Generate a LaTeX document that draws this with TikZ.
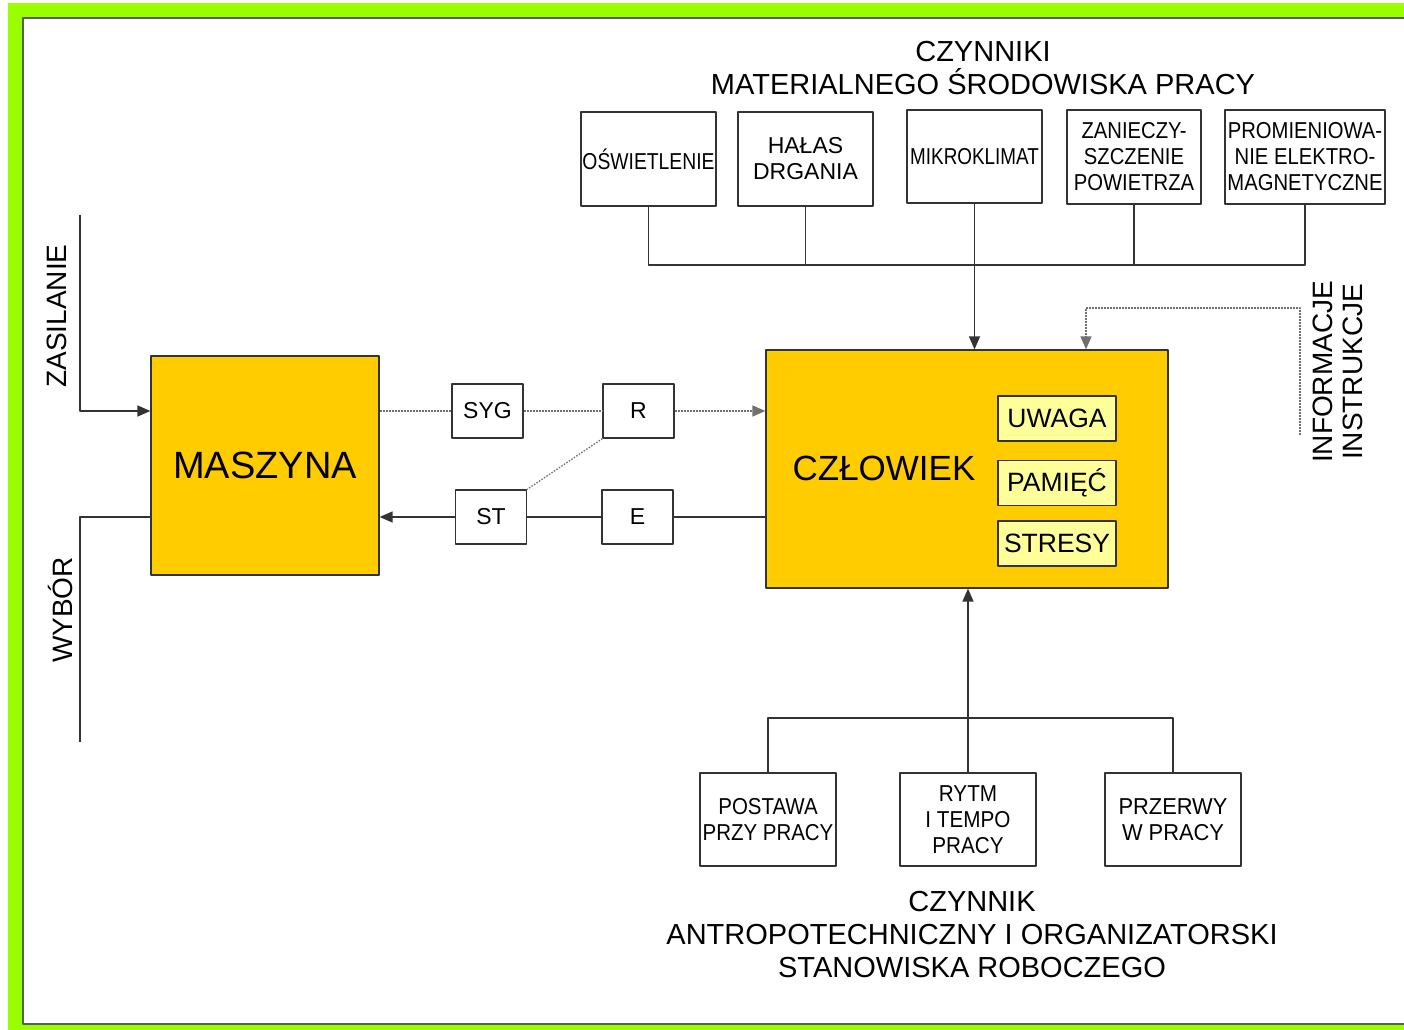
\documentclass[tikz,border=0pt]{standalone}
\usepackage{fontspec}
\setmainfont{Liberation Sans}
\usepackage{graphicx}
\usetikzlibrary{arrows.meta}
\definecolor{frame}{HTML}{99FF00}
\definecolor{gold}{HTML}{FFCC00}
\definecolor{pale}{HTML}{FFFF99}
\definecolor{ink}{HTML}{333333}
\newcommand{\narrow}[2]{\scalebox{#1}[1]{#2}}

\begin{document}
\begin{tikzpicture}[>={Triangle[length=13bp,width=11bp]},line join=bevel,
  wire/.style={draw=ink,line width=1.3bp},
  signal/.style={draw=ink!70,line width=1.3bp,dash pattern=on 2bp off 1bp},
  box/.style={draw=ink,line width=1.2bp,fill=white,inner sep=0pt,align=center,minimum width=135bp,minimum height=94bp,font=\fontsize{23bp}{26bp}\selectfont},
  smallbox/.style={draw=ink,line width=1.2bp,fill=white,inner sep=0pt,minimum width=71bp,minimum height=54bp,font=\fontsize{23bp}{26bp}\selectfont},
  bigbox/.style={draw=ink,line width=1.2bp,fill=gold,inner sep=0pt},
  tagbox/.style={draw=ink,line width=1.2bp,fill=pale,inner sep=0pt,minimum width=118bp,minimum height=45bp,font=\fontsize{26.5bp}{30bp}\selectfont},
  title/.style={inner sep=0pt,align=center,font=\fontsize{29bp}{33bp}\selectfont},
  sidelabel/.style={inner sep=0pt,rotate=90,align=center,font=\fontsize{28bp}{30bp}\selectfont}]
%%
\useasboundingbox (0bp,0bp) rectangle (1404bp,1030bp);
\fill [white] (0bp,0bp) rectangle (1404bp,1030bp);
\fill [frame] (8bp,0bp) rectangle (1404bp,1027bp);
\draw [fill=white,draw=ink!80,line width=1.5bp] (23bp,6bp) rectangle (1412bp,1012bp);
%
\node (node_title) at (983bp,962bp) [title] {CZYNNIKI\\MATERIALNEGO ŚRODOWISKA PRACY};
\node (node_oswietlenie) at (648.5bp,871bp) [box] {\narrow{0.84}{OŚWIETLENIE}};
\node (node_halas) at (805.5bp,871bp) [box] {HAŁAS\\DRGANIA};
\node (node_mikroklimat) at (974.5bp,873.5bp) [box,minimum height=93bp] {\narrow{0.82}{MIKROKLIMAT}};
\node (node_zanieczyszczenie) at (1134bp,873bp) [box,minimum width=134bp] {\narrow{0.88}{ZANIECZY-}\\\narrow{0.88}{SZCZENIE}\\\narrow{0.88}{POWIETRZA}};
\node (node_promieniowanie) at (1305bp,873bp) [box,minimum width=160bp] {\narrow{0.88}{PROMIENIOWA-}\\\narrow{0.88}{NIE ELEKTRO-}\\\narrow{0.88}{MAGNETYCZNE}};
%
\node (node_czlowiek) at (967bp,561bp) [bigbox,minimum width=402bp,minimum height=238bp] {};
\node (node_czlowiek_label) at (884bp,562bp) [inner sep=0pt,font=\fontsize{35bp}{40bp}\selectfont] {CZŁOWIEK};
\node (node_uwaga) at (1057bp,611.5bp) [tagbox] {UWAGA};
\node (node_pamiec) at (1057bp,547bp) [tagbox] {PAMIĘĆ};
\node (node_stresy) at (1057bp,486.5bp) [tagbox] {STRESY};
%
\node (node_maszyna) at (265bp,564.5bp) [bigbox,minimum width=228bp,minimum height=219bp,font=\fontsize{38bp}{42bp}\selectfont] {MASZYNA};
\node (node_syg) at (487.5bp,619bp) [smallbox] {SYG};
\node (node_r) at (638.5bp,619bp) [smallbox] {R};
\node (node_st) at (491bp,513bp) [smallbox] {ST};
\node (node_e) at (637.5bp,513bp) [smallbox] {E};
%
\node (node_postawa) at (768bp,210.5bp) [box,minimum width=136bp,minimum height=93bp] {\narrow{0.89}{POSTAWA}\\\narrow{0.89}{PRZY PRACY}};
\node (node_rytm) at (968bp,210.5bp) [box,minimum width=136bp,minimum height=93bp] {\narrow{0.9}{RYTM}\\\narrow{0.9}{I TEMPO}\\\narrow{0.9}{PRACY}};
\node (node_przerwy) at (1173bp,210.5bp) [box,minimum width=136bp,minimum height=93bp] {\narrow{0.95}{PRZERWY}\\\narrow{0.95}{W PRACY}};
\node (node_bottom_title) at (972bp,95bp) [title] {CZYNNIK\\ANTROPOTECHNICZNY I ORGANIZATORSKI\\STANOWISKA ROBOCZEGO};
%
\node (node_zasilanie) at (57bp,714bp) [sidelabel] {ZASILANIE};
\node (node_wybor) at (60bp,420bp) [sidelabel] {WYBÓR};
\node (node_informacje) at (1338bp,658bp) [sidelabel] {INFORMACJE\\INSTRUKCJE};
\coordinate (zas_top) at (80bp,815bp);
\coordinate (wyb_bottom) at (80bp,288bp);
\coordinate (info_start) at (1300bp,595bp);
\coordinate (info_in) at (1086bp,722bp);
\coordinate (bus_top) at (975bp,765bp);
\coordinate (bus_bottom) at (968bp,312bp);
%
\draw [wire] (node_oswietlenie.south) |- (bus_top) -| (node_promieniowanie.south);
\draw [wire] (node_halas.south) -- (node_halas.south |- bus_top);
\draw [wire] (node_zanieczyszczenie.south) -- (node_zanieczyszczenie.south |- bus_top);
\draw [wire,->] (node_mikroklimat.south) -- (node_mikroklimat.south |- node_czlowiek.north);
\draw [signal,->] (info_start) |- (info_in) -- (info_in |- node_czlowiek.north);
\draw [wire] (node_postawa.north) |- (bus_bottom) -| (node_przerwy.north);
\draw [wire,->] (node_rytm.north) -- (node_rytm.north |- node_czlowiek.south);
%
\draw [signal] (node_maszyna.east |- node_syg) -- (node_syg);
\draw [signal] (node_syg) -- (node_r);
\draw [signal,->] (node_r) -- (node_r -| node_czlowiek.west);
\draw [signal,dash pattern=on 1.5bp off 1.5bp] (node_r.south west) -- (node_st.north east);
\draw [wire] (node_czlowiek.west |- node_e) -- (node_e);
\draw [wire] (node_e) -- (node_st);
\draw [wire,->] (node_st) -- (node_st -| node_maszyna.east);
\draw [wire,->] (zas_top) |- (node_maszyna.west |- node_syg);
\draw [wire] (node_maszyna.west |- node_st) -| (wyb_bottom);
%
\end{tikzpicture}
\end{document}
